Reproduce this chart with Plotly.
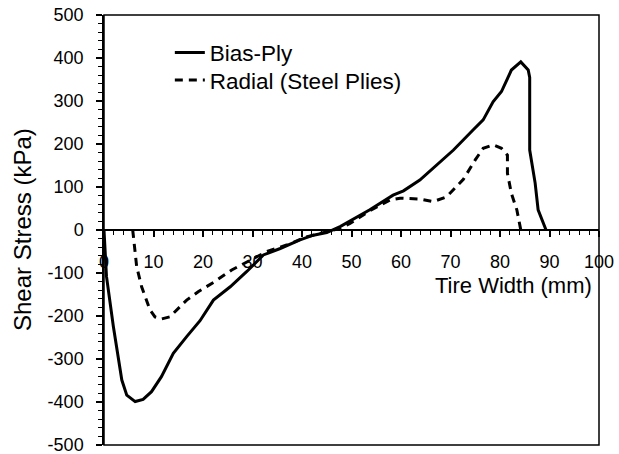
import plotly.graph_objects as go

# Data
bias_x = [0, 0.5, 1.9, 3.6, 4.6, 6.3, 7.9, 9.6, 11.6, 14.0, 16.7, 19.4, 22.1, 25.5, 28.8,
          32.2, 35.6, 39.6, 42.3, 45.0, 47.7, 49.7, 53.7, 58.4, 60.5, 63.8, 67.2, 70.6,
          74.6, 76.6, 78.6, 80.3, 82.3, 84.2, 85.7, 86.0, 86.0, 87.1, 87.7, 89.3]
bias_y = [0, -108, -225, -349, -384, -399, -394, -376, -341, -287, -248, -211, -163, -132, -97,
          -58, -43, -23, -12, -6, 8, 21, 47, 81, 91, 116, 151, 186,
          233, 256, 298, 322, 372, 391, 372, 355, 186, 109, 47, 0]

radial_x = [5.8, 6.6, 7.6, 8.6, 9.3, 10.3, 11.6, 13.3, 15.0, 16.7, 19.1, 22.1, 25.8, 29.5,
            32.9, 36.9, 40.9, 44.3, 47.7, 49.7, 53.7, 57.8, 59.8, 63.8, 66.5, 69.2, 72.6,
            75.0, 76.6, 78.6, 80.3, 81.5, 81.5, 82.3, 83.4, 84.2]
radial_y = [0, -85, -132, -163, -186, -202, -207, -202, -182, -163, -143, -122, -93, -70,
            -50, -35, -16, -6, 4, 15, 45, 70, 74, 72, 66, 77, 118,
            163, 190, 198, 190, 174, 132, 85, 47, 0]

series_names = ["Bias-Ply", "Radial (Steel Plies)"]
x_title = "Tire Width (mm)"
y_title = "Shear Stress (kPa)"
x_tickvals = [0, 10, 20, 30, 40, 50, 60, 70, 80, 90, 100]
y_tickvals = [-500, -400, -300, -200, -100, 0, 100, 200, 300, 400, 500]
y_ticktext = ["-500", "-400", "-300", "-200", "-100", "0", "100", "200", "300", "400", "500"]

FONT = "Liberation Sans, Arial, sans-serif"

fig = go.Figure()
fig.add_trace(go.Scatter(x=bias_x, y=bias_y, mode="lines", name=series_names[0],
                         line=dict(color="black", width=3), legend="legend"))
fig.add_trace(go.Scatter(x=radial_x, y=radial_y, mode="lines", name=series_names[1],
                         line=dict(color="black", width=3, dash="8px,6px"), legend="legend2"))

fig.update_layout(
    width=619, height=454,
    margin=dict(l=104, r=20, t=15, b=9),
    paper_bgcolor="white", plot_bgcolor="white",
    font=dict(family=FONT, color="black", size=18),
    showlegend=True,
    hovermode=False,
    legend=dict(x=0.133, y=0.962, xanchor="left", yanchor="top",
                bgcolor="rgba(0,0,0,0)", font=dict(size=22.5, family=FONT)),
    legend2=dict(x=0.133, y=0.898, xanchor="left", yanchor="top",
                 bgcolor="rgba(0,0,0,0)", font=dict(size=22.5, family=FONT)),
    xaxis=dict(range=[0, 100], tickvals=x_tickvals, showgrid=False, zeroline=False,
               showline=True, linecolor="black", linewidth=1.5,
               anchor="free", position=0.5, side="bottom",
               ticks="outside", ticklen=6, tickwidth=1.5, tickcolor="black",
               ticklabelstandoff=10, ticklabeloverflow="allow",
               minor=dict(dtick=2, tick0=0, ticks="outside", ticklen=4, tickwidth=1, tickcolor="black", showgrid=False),
               tickfont=dict(size=18, family=FONT), automargin=False),
    yaxis=dict(range=[-500, 500], tickvals=y_tickvals, ticktext=y_ticktext, showgrid=False, zeroline=False,
               showline=True, linecolor="black", linewidth=1.5,
               ticks="outside", ticklen=6, tickwidth=1.5, tickcolor="black",
               ticklabelstandoff=9, ticklabeloverflow="allow",
               minor=dict(dtick=20, tick0=0, ticks="outside", ticklen=4, tickwidth=1, tickcolor="black", showgrid=False),
               tickfont=dict(size=18, family=FONT), automargin=False),
    shapes=[dict(type="rect", xref="paper", yref="paper", x0=0, y0=0, x1=1, y1=1,
                 line=dict(color="black", width=1.5), layer="above")],
    annotations=[
        dict(text=x_title, xref="paper", yref="paper", x=(513 - 104) / 495, y=1 - (285 - 15) / 430,
             xanchor="center", yanchor="middle", showarrow=False, font=dict(size=22, family=FONT)),
        dict(text=y_title, xref="paper", yref="paper", x=(22 - 104) / 495, y=0.5, textangle=-90,
             xanchor="center", yanchor="middle", showarrow=False, font=dict(size=24, family=FONT)),
    ],
)

fig.write_html("out.html",
               config={"displayModeBar": False},
               post_script="document.body.style.margin='0';document.body.style.overflow='hidden';")
